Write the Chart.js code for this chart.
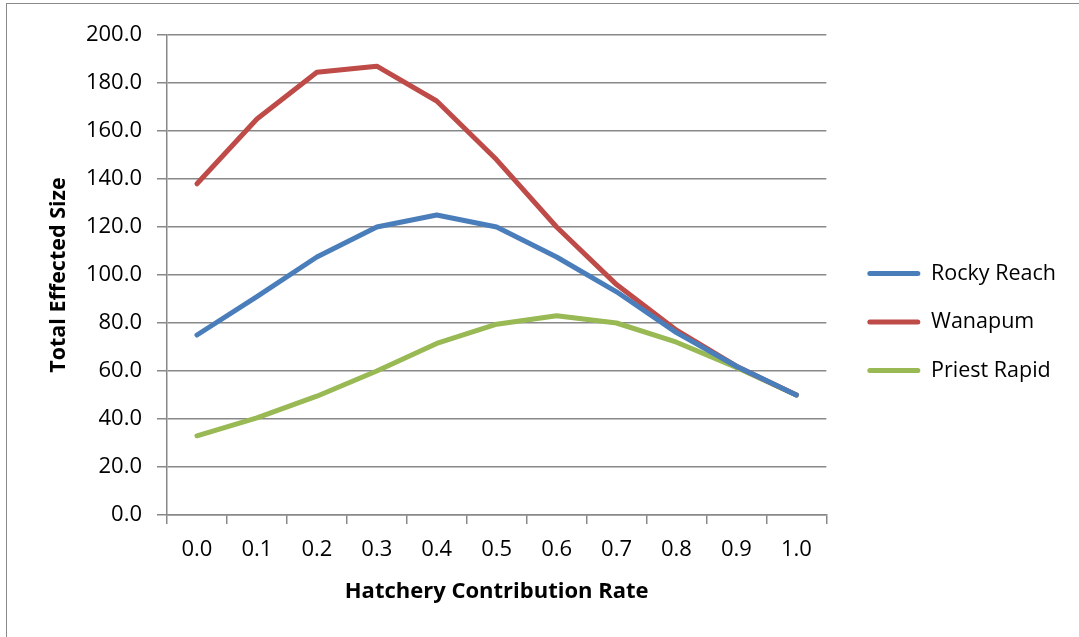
<!DOCTYPE html>
<html>
<head>
<meta charset="utf-8">
<script src="https://cdn.jsdelivr.net/npm/chart.js@4"></script>
<style>
    body { margin: 0; background: #fff; overflow: hidden; font-family: 'Open Sans', sans-serif; }
    #frame { position: absolute; left: 6px; top: 3px; width: 1200px; height: 800px; border: 1.5px solid #8a8a8a; }
    #wrap { position: absolute; left: 0; top: 0; width: 1079px; height: 637px; }
</style>
</head>
<body>
<div id="frame"></div>
<div id="wrap"><canvas id="chart" width="1079" height="637"></canvas></div>
<script>
    const rates = ["0.0", "0.1", "0.2", "0.3", "0.4", "0.5", "0.6", "0.7", "0.8", "0.9", "1.0"];
    const rockyReach = [75, 91, 107.5, 120, 125, 120, 107.5, 93, 76, 62, 50];
    const wanapum = [138, 165, 184.5, 187, 172.5, 148, 120, 96, 77, 62, 50];
    const priestRapid = [33, 40.5, 49.5, 60, 71.5, 79.5, 83, 80, 72, 61.5, 50];

    const gridColor = "#888888";
    const font = "'Open Sans', 'DejaVu Sans', sans-serif";

    function series(label, data, color) {
        return {
            label,
            data,
            borderColor: color,
            backgroundColor: color,
            borderWidth: 5,
            borderCapStyle: "round",
            borderJoinStyle: "round",
            pointRadius: 0,
            tension: 0
        };
    }

    // push the legend a bit to the right of the plot, like the original
    const legendShift = {
        id: "legendShift",
        afterLayout(chart) {
            chart.legend.left += 14;
            chart.legend.right += 14;
        }
    };

    function drawChart() {
        new Chart(document.getElementById("chart"), {
            type: "line",
            data: {
                labels: rates,
                datasets: [
                    series("Rocky Reach", rockyReach, "#4a7ebb"),
                    series("Wanapum", wanapum, "#be4b48"),
                    series("Priest Rapid", priestRapid, "#98b954")
                ]
            },
            plugins: [legendShift],
            options: {
                responsive: false,
                animation: false,
                devicePixelRatio: 1,
                layout: { padding: { left: 42, top: 35, bottom: 28, right: 27 } },
                plugins: {
                    tooltip: { enabled: false },
                    legend: {
                        position: "right",
                        labels: {
                            boxWidth: 53,
                            boxHeight: 5,
                            padding: 27,
                            color: "#000",
                            useBorderRadius: true,
                            borderRadius: 2.5,
                            font: { family: font, size: 21.5 },
                            generateLabels(chart) {
                                const items = Chart.defaults.plugins.legend.labels.generateLabels(chart);
                                items.forEach(item => { item.lineWidth = 0; });
                                return items;
                            }
                        }
                    }
                },
                scales: {
                    x: {
                        offset: true,
                        grid: { offset: true, drawOnChartArea: false, color: gridColor, tickLength: 9, lineWidth: 1.5 },
                        border: { color: gridColor, width: 1.5 },
                        ticks: { color: "#000", padding: 13, maxRotation: 0, font: { family: font, size: 22 } },
                        title: { display: true, text: "Hatchery Contribution Rate", color: "#000", font: { family: font, size: 22, weight: "bold" } },
                        afterFit(scale) { scale.height = 94; }
                    },
                    y: {
                        min: 0,
                        max: 200,
                        grid: { color: gridColor, tickLength: 10, lineWidth: 1.5 },
                        border: { color: gridColor, width: 1.5 },
                        ticks: {
                            stepSize: 20,
                            color: "#000",
                            padding: 15,
                            font: { family: font, size: 22 },
                            callback: v => v.toFixed(1)
                        },
                        title: { display: true, text: "Total Effected Size", color: "#000", font: { family: font, size: 21.5, weight: "bold" } },
                        afterFit(scale) { scale.width = 125; }
                    }
                }
            }
        });
    }

    Promise.all([
        document.fonts.load("22px 'Open Sans'"),
        document.fonts.load("bold 22px 'Open Sans'")
    ]).then(drawChart, drawChart);
</script>
</body>
</html>
